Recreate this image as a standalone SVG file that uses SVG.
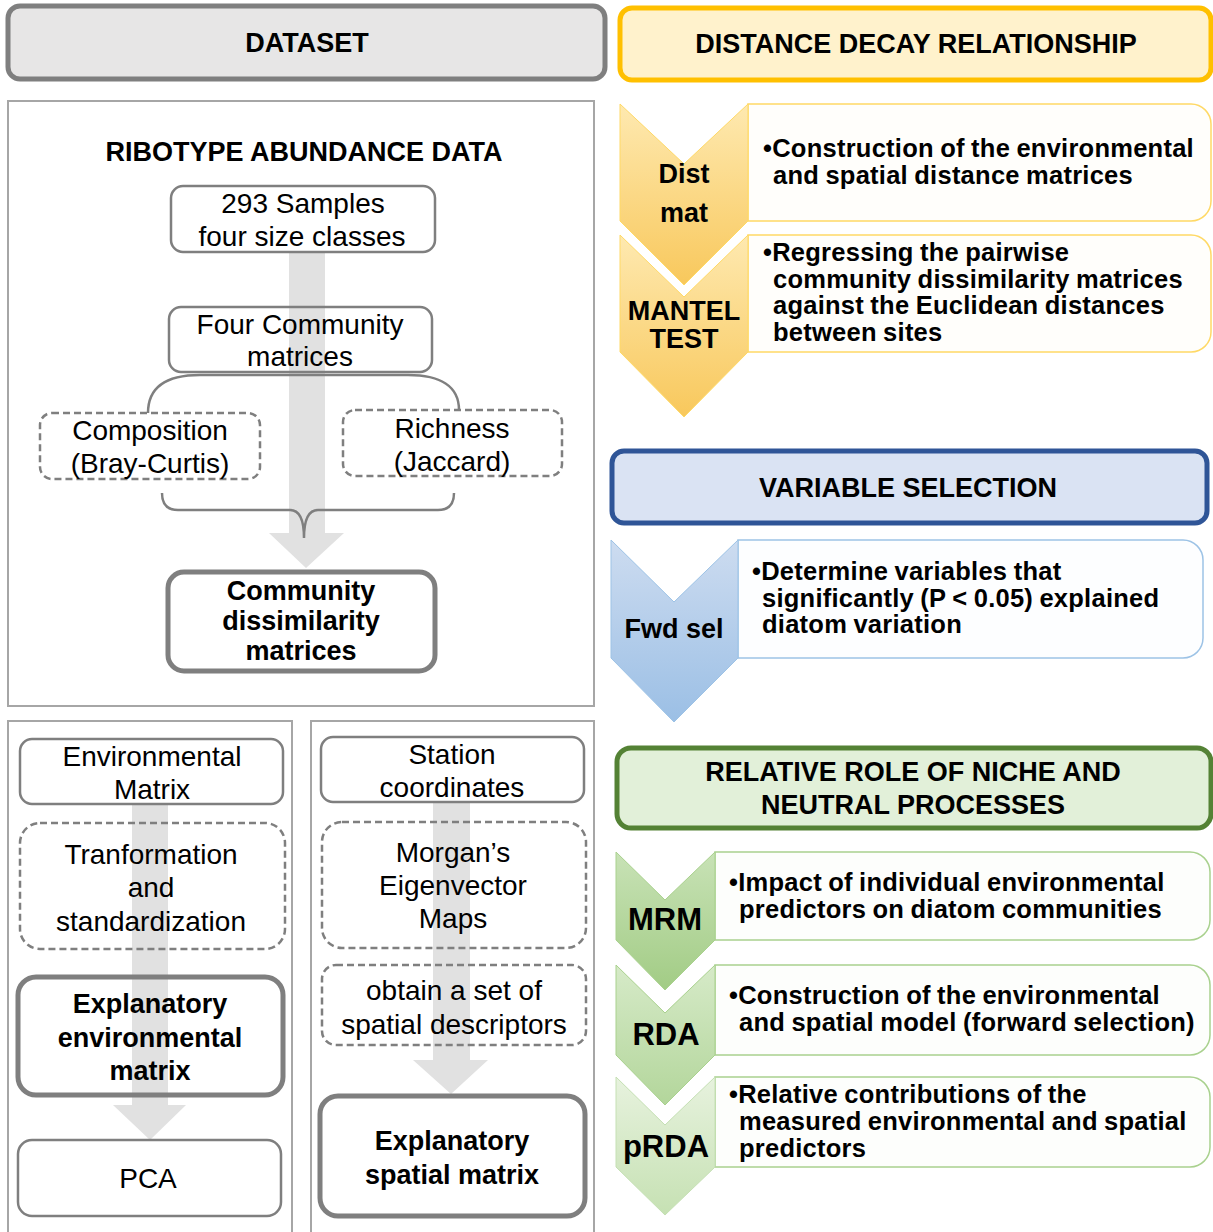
<svg xmlns="http://www.w3.org/2000/svg" width="1213" height="1232" viewBox="0 0 1213 1232">
<defs>
<linearGradient id="gOr" x1="0" y1="0" x2="0" y2="1"><stop offset="0" stop-color="#fee9b0"/><stop offset="1" stop-color="#f8c85c"/></linearGradient>
<linearGradient id="gBl" x1="0" y1="0" x2="0" y2="1"><stop offset="0" stop-color="#cddcf0"/><stop offset="1" stop-color="#9bbfe5"/></linearGradient>
<linearGradient id="gG1" x1="0" y1="0" x2="0" y2="1"><stop offset="0" stop-color="#c8e2b6"/><stop offset="1" stop-color="#a2cc85"/></linearGradient>
<linearGradient id="gG2" x1="0" y1="0" x2="0" y2="1"><stop offset="0" stop-color="#d6eac8"/><stop offset="1" stop-color="#b3d69b"/></linearGradient>
<linearGradient id="gG3" x1="0" y1="0" x2="0" y2="1"><stop offset="0" stop-color="#e7f2de"/><stop offset="1" stop-color="#c6e1b3"/></linearGradient>
</defs>
<style>
text{font-family:"Liberation Sans",Arial,sans-serif;fill:#000}
.reg{font-size:28px;text-anchor:middle}
.bb{font-size:27px;font-weight:bold;text-anchor:middle}
.hd{font-size:27px;font-weight:bold;text-anchor:middle}
.ch{font-size:27px;font-weight:bold;text-anchor:middle}
.chg{font-size:31px;font-weight:bold;text-anchor:middle}
.bul{font-size:25.5px;font-weight:bold;word-spacing:-1px;letter-spacing:0.25px}
.panel{fill:#fff;stroke:#a6a6a6;stroke-width:2}
.box{fill:none;stroke:#7f7f7f;stroke-width:2.5}
.dash{fill:none;stroke:#7f7f7f;stroke-width:2.5;stroke-dasharray:7 4}
.thick{fill:none;stroke:#7f7f7f;stroke-width:5}
.arrow{fill:#e1e1e1;stroke:none}
.brace{fill:none;stroke:#7f7f7f;stroke-width:2.5}
.tbO{fill:#fffefb;stroke:#ffd966;stroke-width:1.5}
.tbB{fill:#fdfeff;stroke:#9dc3e6;stroke-width:1.5}
.tbG{fill:#fdfefc;stroke:#a9d18e;stroke-width:1.5}
</style>

<rect class="panel" x="8" y="101" width="586" height="605"/>
<rect class="panel" x="8" y="721" width="284" height="520"/>
<rect class="panel" x="311" y="721" width="283" height="520"/>

<g id="connectors">
<path class="arrow" d="M289,252 H325 V533 H344 L306,568 L269,533 H289 Z"/>
<path class="arrow" d="M132,805 H168 V1105 H186 L150,1140 L113,1105 H132 Z"/>
<path class="arrow" d="M433,803 H470 V1060 H488 L451,1094 L413,1060 H433 Z"/>
<path class="brace" d="M148,413 C148,386 168,375 200,375 L408,375 C440,375 459,386 459,410"/>
<path class="brace" d="M162,493 Q162,510 178,510 L290,510 Q304,510 304,538 Q304,510 318,510 L438,510 Q454,510 454,493"/>
</g>

<g id="dataset">
<rect x="8" y="6" width="597" height="73" rx="12" fill="#e7e6e6" stroke="#7f7f7f" stroke-width="5"/>
<text class="hd" x="307" y="52">DATASET</text>
</g>

<g id="ribotype">
<text class="hd" x="304" y="161">RIBOTYPE ABUNDANCE DATA</text>
</g>

<g id="samples">
<rect class="box" x="171" y="186" width="264" height="66" rx="12"/>
<text class="reg" x="303" y="213">293 Samples</text>
<text class="reg" x="302" y="246">four size classes</text>
</g>

<g id="four-community">
<rect class="box" x="169" y="307" width="263" height="65" rx="12"/>
<text class="reg" x="300" y="334">Four Community</text>
<text class="reg" x="300" y="366">matrices</text>
</g>

<g id="composition">
<rect class="dash" x="40" y="413" width="220" height="66" rx="12"/>
<text class="reg" x="150" y="440">Composition</text>
<text class="reg" x="150" y="473">(Bray-Curtis)</text>
</g>

<g id="richness">
<rect class="dash" x="343" y="410" width="219" height="66" rx="12"/>
<text class="reg" x="452" y="438">Richness</text>
<text class="reg" x="452" y="471">(Jaccard)</text>
</g>

<g id="community-dissimilarity">
<rect class="thick" x="168" y="572" width="267" height="99" rx="16"/>
<text class="bb" x="301" y="600">Community</text>
<text class="bb" x="301" y="630">dissimilarity</text>
<text class="bb" x="301" y="660">matrices</text>
</g>

<g id="env-matrix">
<rect class="box" x="20" y="739" width="263" height="65" rx="12"/>
<text class="reg" x="152" y="766">Environmental</text>
<text class="reg" x="152" y="799">Matrix</text>
</g>

<g id="transformation">
<rect class="dash" x="20" y="823" width="265" height="126" rx="20"/>
<text class="reg" x="151" y="864">Tranformation</text>
<text class="reg" x="151" y="897">and</text>
<text class="reg" x="151" y="931">standardization</text>
</g>

<g id="explanatory-env">
<rect class="thick" x="18" y="977" width="265" height="118" rx="18"/>
<text class="bb" x="150" y="1013">Explanatory</text>
<text class="bb" x="150" y="1047">environmental</text>
<text class="bb" x="150" y="1080">matrix</text>
</g>

<g id="pca">
<rect class="box" x="18" y="1140" width="263" height="76" rx="14" stroke-width="3"/>
<text class="reg" x="148" y="1188">PCA</text>
</g>

<g id="station">
<rect class="box" x="321" y="737" width="263" height="65" rx="12"/>
<text class="reg" x="452" y="764">Station</text>
<text class="reg" x="452" y="797">coordinates</text>
</g>

<g id="mem">
<rect class="dash" x="322" y="822" width="264" height="126" rx="20"/>
<text class="reg" x="453" y="862">Morgan’s</text>
<text class="reg" x="453" y="895">Eigenvector</text>
<text class="reg" x="453" y="928">Maps</text>
</g>

<g id="descriptors">
<rect class="dash" x="322" y="965" width="264" height="80" rx="14"/>
<text class="reg" x="454" y="1000">obtain a set of</text>
<text class="reg" x="454" y="1034">spatial descriptors</text>
</g>

<g id="explanatory-spatial">
<rect class="thick" x="320" y="1096" width="265" height="120" rx="18"/>
<text class="bb" x="452" y="1150">Explanatory</text>
<text class="bb" x="452" y="1184">spatial matrix</text>
</g>

<g id="distance-decay">
<rect x="620" y="8" width="591" height="72" rx="12" fill="#fff2cc" stroke="#ffc000" stroke-width="5"/>
<text class="hd" x="916" y="53">DISTANCE DECAY RELATIONSHIP</text>
</g>

<g id="dist-mat">
<path class="tbO" d="M748,104 H1191 A20,20 0 0 1 1211,124 V201 A20,20 0 0 1 1191,221 H748 Z"/>
<path d="M620,104 L684,164 L748,104 V221 L684,285 L620,221 Z" fill="url(#gOr)" stroke="#ffd966" stroke-width="1"/>
<text class="ch" x="684" y="183">Dist</text>
<text class="ch" x="684" y="222">mat</text>
<text class="bul" x="763" y="157">•Construction of the environmental</text>
<text class="bul" x="773" y="184">and spatial distance matrices</text>
</g>

<g id="mantel">
<path class="tbO" d="M748,235 H1191 A20,20 0 0 1 1211,255 V332 A20,20 0 0 1 1191,352 H748 Z"/>
<path d="M620,235 L684,297 L748,235 V352 L684,417 L620,352 Z" fill="url(#gOr)" stroke="#ffd966" stroke-width="1"/>
<text class="ch" x="684" y="320">MANTEL</text>
<text class="ch" x="684" y="348">TEST</text>
<text class="bul" x="763" y="261">•Regressing the pairwise</text>
<text class="bul" x="773" y="287.5">community dissimilarity matrices</text>
<text class="bul" x="773" y="314">against the Euclidean distances</text>
<text class="bul" x="773" y="341">between sites</text>
</g>

<g id="variable-selection">
<rect x="612" y="451" width="595" height="72" rx="12" fill="#dae3f3" stroke="#2f5597" stroke-width="5"/>
<text class="hd" x="908" y="497">VARIABLE SELECTION</text>
</g>

<g id="fwd-sel">
<path class="tbB" d="M738,540 H1183 A20,20 0 0 1 1203,560 V638 A20,20 0 0 1 1183,658 H738 Z"/>
<path d="M611,540 L674,602 L738,540 V658 L674,722 L611,658 Z" fill="url(#gBl)" stroke="#9dc3e6" stroke-width="1"/>
<text class="ch" x="674" y="638">Fwd sel</text>
<text class="bul" x="752" y="580">•Determine variables that</text>
<text class="bul" x="762" y="607">significantly (P &lt; 0.05) explained</text>
<text class="bul" x="762" y="633">diatom variation</text>
</g>

<g id="niche-neutral">
<rect x="617" y="748" width="594" height="80" rx="14" fill="#e2f0d9" stroke="#548235" stroke-width="5"/>
<text class="hd" x="913" y="781">RELATIVE ROLE OF NICHE AND</text>
<text class="hd" x="913" y="814">NEUTRAL PROCESSES</text>
</g>

<g id="mrm">
<path class="tbG" d="M715,852 H1190 A20,20 0 0 1 1210,872 V920 A20,20 0 0 1 1190,940 H715 Z"/>
<path d="M616,852 L665,900 L715,852 V940 L665,990 L616,940 Z" fill="url(#gG1)" stroke="#a9d18e" stroke-width="1"/>
<text class="chg" x="665" y="930">MRM</text>
<text class="bul" x="729" y="891">•Impact of individual environmental</text>
<text class="bul" x="739" y="918">predictors on diatom communities</text>
</g>

<g id="rda">
<path class="tbG" d="M715,965 H1190 A20,20 0 0 1 1210,985 V1035 A20,20 0 0 1 1190,1055 H715 Z"/>
<path d="M616,965 L665,1013 L715,965 V1055 L665,1105 L616,1055 Z" fill="url(#gG2)" stroke="#a9d18e" stroke-width="1"/>
<text class="chg" x="666" y="1045">RDA</text>
<text class="bul" x="729" y="1004">•Construction of the environmental</text>
<text class="bul" x="739" y="1031">and spatial model (forward selection)</text>
</g>

<g id="prda">
<path class="tbG" d="M715,1077 H1190 A20,20 0 0 1 1210,1097 V1147 A20,20 0 0 1 1190,1167 H715 Z"/>
<path d="M616,1077 L665,1125 L715,1077 V1167 L665,1215 L616,1167 Z" fill="url(#gG3)" stroke="#c5e0b4" stroke-width="1"/>
<text class="chg" x="666" y="1157">pRDA</text>
<text class="bul" x="729" y="1103">•Relative contributions of the</text>
<text class="bul" x="739" y="1130">measured environmental and spatial</text>
<text class="bul" x="739" y="1157">predictors</text>
</g>
</svg>
